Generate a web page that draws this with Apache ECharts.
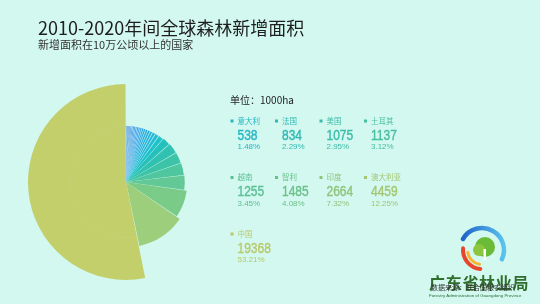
<!DOCTYPE html>
<html><head><meta charset="utf-8">
<script src="https://cdn.jsdelivr.net/npm/echarts@6/dist/echarts.min.js"></script>
<style>html,body{margin:0;padding:0;background:#d2f8ef}#c{width:540px;height:304px}</style>
</head><body><div id="c"></div>
<script>
// ---- data ----
const titleText = '2010-2020年间全球森林新增面积';
const subtitleText = '新增面积在10万公顷以上的国家';
const unitText = '单位：1000ha';
const countries = ['意大利', '法国', '美国', '土耳其', '越南', '智利', '印度', '澳大利亚', '中国'];
const values = [538, 834, 1075, 1137, 1255, 1485, 2664, 4459, 19368];
// other countries above 100 (1000ha), unlabeled, read as thin slices of the blue fan
const otherValues = [104, 112, 115, 118, 125, 133, 140, 148, 155, 164, 172, 186, 198, 215, 232, 254, 281, 318, 414];
const countryColors = ['#1ec2c9', '#25c0bb', '#30c1b1', '#3cc3a8', '#50c69f', '#62c896', '#7bcb88', '#9dce7c', '#c2cf6b'];
const textColors = ['#27b5c4', '#2fb8b4', '#3bbba9', '#48bea2', '#5bbf95', '#6cc18b', '#90c47c', '#a4c672', '#b9c86b'];
const logoName = '广东省林业局';
const sourceText = '数据来源：联合国粮农组织';
const logoEnglish = 'Forestry Administration of Guangdong Province';

// ---- helpers ----
function hex(c) { return [1, 3, 5].map(i => parseInt(c.substr(i, 2), 16)); }
function mix(a, b, t) {
  const A = hex(a), B = hex(b);
  return 'rgb(' + A.map((v, i) => Math.round(v + (B[i] - v) * t)).join(',') + ')';
}
const otherStops = ['#2c6cdc', '#3a9cee', '#25bcd6'];
const otherColors = otherValues.map((v, i) => {
  const t = i / (otherValues.length - 1);
  return t < 0.5 ? mix(otherStops[0], otherStops[1], t * 2) : mix(otherStops[1], otherStops[2], (t - 0.5) * 2);
});
const total = otherValues.reduce((a, b) => a + b, 0) + values.reduce((a, b) => a + b, 0);

const pieData = otherValues.map((v, i) => ({ name: 'other' + i, value: v, itemStyle: { color: otherColors[i] } }))
  .concat(values.map((v, i) => ({ name: countries[i], value: v, itemStyle: { color: countryColors[i] } })));

const CJK = "'Noto Sans CJK SC', 'Noto Sans', sans-serif";
const NARROW = "'Liberation Sans Narrow', 'Liberation Sans', sans-serif";

const graphics = [];
graphics.push({ type: 'text', x: 38, y: 28, style: { text: titleText, fill: '#1e1e1e', font: '18px ' + CJK, verticalAlign: 'middle' } });
graphics.push({ type: 'text', x: 38, y: 45, style: { text: subtitleText, fill: '#333333', font: '11px ' + CJK, verticalAlign: 'middle' } });
graphics.push({ type: 'text', x: 230, y: 100, style: { text: unitText, fill: '#222222', font: '10px ' + CJK, verticalAlign: 'middle' } });

countries.forEach((name, i) => {
  const col = i % 4, row = Math.floor(i / 4);
  const tx = 237.5 + col * 44.5;
  const ny = 121 + row * 56.5;
  const c = textColors[i];
  graphics.push({ type: 'rect', shape: { x: tx - 7, y: ny - 1.5, width: 3, height: 3 }, style: { fill: c } });
  graphics.push({ type: 'text', x: tx, y: ny, style: { text: name, fill: c, font: '7.5px ' + CJK, verticalAlign: 'middle' } });
  graphics.push({ type: 'text', x: tx, y: ny + 14.5, scaleX: 0.8, style: { text: String(values[i]), fill: c, stroke: c, lineWidth: 0.4, font: '15px ' + NARROW, verticalAlign: 'middle' } });
  graphics.push({ type: 'text', x: tx, y: ny + 26, style: { text: (values[i] / total * 100).toFixed(2) + '%', fill: c, font: '8px ' + NARROW, verticalAlign: 'middle' } });
});

// logo
graphics.push({ type: 'arc', shape: { cx: 482, cy: 250, r: 22, startAngle: Math.PI * 210 / 180, endAngle: Math.PI * 385 / 180, clockwise: true },
  style: { stroke: new echarts.graphic.LinearGradient(0, 0, 1, 0, [{ offset: 0, color: '#1f5fc8' }, { offset: 1, color: '#5cc8f0' }]), lineWidth: 4.5, fill: 'none', lineCap: 'round' } });
graphics.push({ type: 'arc', shape: { cx: 482, cy: 250, r: 19, startAngle: Math.PI * 95 / 180, endAngle: Math.PI * 185 / 180, clockwise: true },
  style: { stroke: '#e9452c', lineWidth: 4, fill: 'none', lineCap: 'round' } });
graphics.push({ type: 'arc', shape: { cx: 482, cy: 250, r: 14.5, startAngle: Math.PI * 100 / 180, endAngle: Math.PI * 170 / 180, clockwise: true },
  style: { stroke: '#f6b52c', lineWidth: 3, fill: 'none', lineCap: 'round' } });
graphics.push({ type: 'circle', shape: { cx: 485, cy: 247, r: 10 }, style: { fill: '#6cbb38' } });
graphics.push({ type: 'circle', shape: { cx: 479, cy: 250, r: 6 }, style: { fill: '#8cc63f' } });
graphics.push({ type: 'rect', shape: { x: 483.5, y: 249, width: 2.5, height: 11 }, style: { fill: '#ffffff' } });
logoName.split('').forEach((ch, i) => {
  graphics.push({ type: 'text', x: 429 + i * 16.7, y: 283, style: { text: ch, fill: '#2f6e2c', font: 'bold 16px ' + CJK, verticalAlign: 'middle' } });
});
graphics.push({ type: 'text', x: 431, y: 287.5, style: { text: sourceText, fill: '#333333', font: '7px ' + CJK, verticalAlign: 'middle' } });
graphics.push({ type: 'text', x: 429, y: 295.7, style: { text: logoEnglish, fill: '#2a6e3a', font: '4.4px ' + NARROW, verticalAlign: 'middle' } });

const chart = echarts.init(document.getElementById('c'), null, { renderer: 'canvas' });
chart.setOption({
  backgroundColor: '#d2f8ef',
  animation: false,
  series: [
    {
      type: 'pie', center: [126, 182], radius: [55.5, 98], roseType: 'radius',
      startAngle: 90, clockwise: true, padAngle: 0.6, z: 2, silent: true,
      label: { show: false }, labelLine: { show: false }, data: pieData
    },
    {
      type: 'pie', center: [126, 182], radius: [0, 55.9],
      startAngle: 90, clockwise: true, padAngle: 0.6, z: 3, silent: true,
      label: { show: false }, labelLine: { show: false }, data: pieData
    }
  ],
  graphic: graphics
});
</script>
</body></html>
